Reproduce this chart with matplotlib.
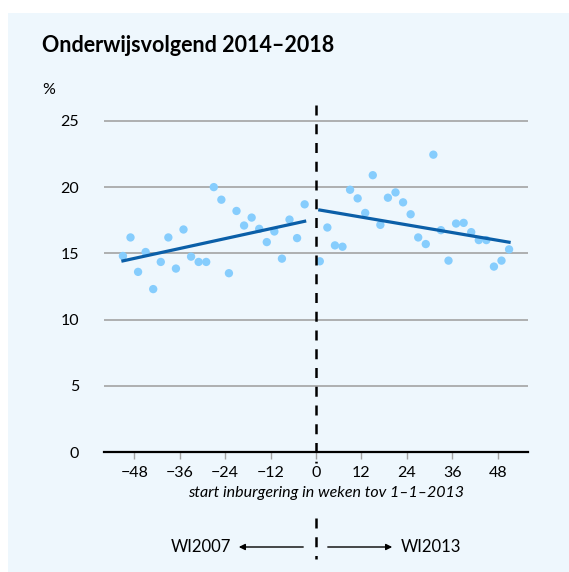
import matplotlib.pyplot as plt
from matplotlib.patches import Rectangle

plt.rcParams['font.family'] = ['Lato', 'DejaVu Sans']

# weken tov 1-1-2013, percentage onderwijsvolgend
weken_wi2007 = [-51, -49, -47, -45, -43, -41, -39, -37, -35, -33, -31, -29, -27,
                -25, -23, -21, -19, -17, -15, -13, -11, -9, -7, -5, -3]
pct_wi2007 = [14.8, 16.2, 13.6, 15.1, 12.3, 14.35, 16.2, 13.85, 16.8, 14.75, 14.35, 14.35, 20.0,
              19.05, 13.5, 18.2, 17.1, 17.7, 16.85, 15.85, 16.65, 14.6, 17.55, 16.15, 18.7]

weken_wi2013 = [1, 3, 5, 7, 9, 11, 13, 15, 17, 19, 21, 23, 25,
                27, 29, 31, 33, 35, 37, 39, 41, 43, 45, 47, 49, 51]
pct_wi2013 = [14.4, 16.95, 15.6, 15.5, 19.8, 19.15, 18.05, 20.9, 17.15, 19.2, 19.6, 18.85, 17.95,
              16.2, 15.7, 22.45, 16.75, 14.45, 17.25, 17.3, 16.6, 16.0, 16.0, 14.0, 14.45, 15.3]

# trendlijnen (begin- en eindpunt)
trend_wi2007_x = [-51, -3]
trend_wi2007_y = [14.43, 17.42]
trend_wi2013_x = [1, 51]
trend_wi2013_y = [18.27, 15.84]

xticks = [-48, -36, -24, -12, 0, 12, 24, 36, 48]
yticks = [0, 5, 10, 15, 20, 25]

bg = '#eef7fd'
licht = '#86cdfd'
donker = '#0b5fa8'

fig = plt.figure(figsize=(5.69, 5.72), dpi=100)
fig.patch.set_facecolor('white')
fig.patches.append(Rectangle((8 / 569, 0), 1, 1 - 13 / 572, transform=fig.transFigure,
                             facecolor=bg, edgecolor='none', zorder=-10))

ax = fig.add_axes([104 / 569, 1 - 452 / 572, 424 / 569, (452 - 105) / 572])
ax.set_facecolor('none')
ax.set_xlim(-56, 56)
ax.set_ylim(0, 26.2)

for y in yticks[1:]:
    ax.axhline(y, color='#a3a3a3', lw=1.2, zorder=1)

ax.scatter(weken_wi2007, pct_wi2007, s=36, color=licht, edgecolors='none', zorder=3)
ax.scatter(weken_wi2013, pct_wi2013, s=36, color=licht, edgecolors='none', zorder=3)
ax.plot(trend_wi2007_x, trend_wi2007_y, color=donker, lw=2.3, zorder=4)
ax.plot(trend_wi2013_x, trend_wi2013_y, color=donker, lw=2.3, zorder=4)

# gestippelde scheidingslijn
ax.plot([0, 0], [26.2, -0.8], color='black', lw=1.8, dashes=(4, 3.5), clip_on=False, zorder=5)
ax.plot([0, 0], [-5.0, -8.1], color='black', lw=1.8, dashes=(4, 3.5), clip_on=False, zorder=5)

for s in ['top', 'right', 'left']:
    ax.spines[s].set_visible(False)
ax.spines['bottom'].set_color('black')
ax.spines['bottom'].set_linewidth(1.6)
ax.spines['bottom'].set_zorder(2)

ax.set_xticks(xticks)
ax.set_xticklabels([str(t).replace('-', '\u2212') for t in xticks])
ax.set_yticks(yticks)
ax.set_yticklabels([str(t) for t in yticks])
ax.tick_params(axis='x', length=5, color='#a3a3a3', width=1, pad=5, labelsize=11.5)
ax.tick_params(axis='y', length=0, pad=18, labelsize=11.5)

fig.text(42 / 569, 1 - 45 / 572, 'Onderwijsvolgend 2014\u20132018', fontsize=15.5,
         fontweight='bold', va='center', ha='left')
fig.text(42 / 569, 1 - 90 / 572, '%', fontsize=11.5, va='center', ha='left')
fig.text(326 / 569, 1 - 493 / 572, 'start inburgering in weken tov 1\u20131\u20132013',
         fontsize=11.5, style='italic', va='center', ha='center')

# pijlen onder de grafiek
ya = 1 - 547 / 572
ax.annotate('', xy=(236 / 569, ya), xytext=(306 / 569, ya), xycoords='figure fraction',
            arrowprops=dict(arrowstyle='-|>', color='black', lw=1.0, mutation_scale=9))
ax.annotate('', xy=(395 / 569, ya), xytext=(325 / 569, ya), xycoords='figure fraction',
            arrowprops=dict(arrowstyle='-|>', color='black', lw=1.0, mutation_scale=9))
fig.text(231 / 569, ya, 'WI2007', fontsize=12, va='center', ha='right')
fig.text(401 / 569, ya, 'WI2013', fontsize=12, va='center', ha='left')

fig.savefig('out.png', dpi=100, facecolor=fig.get_facecolor())
